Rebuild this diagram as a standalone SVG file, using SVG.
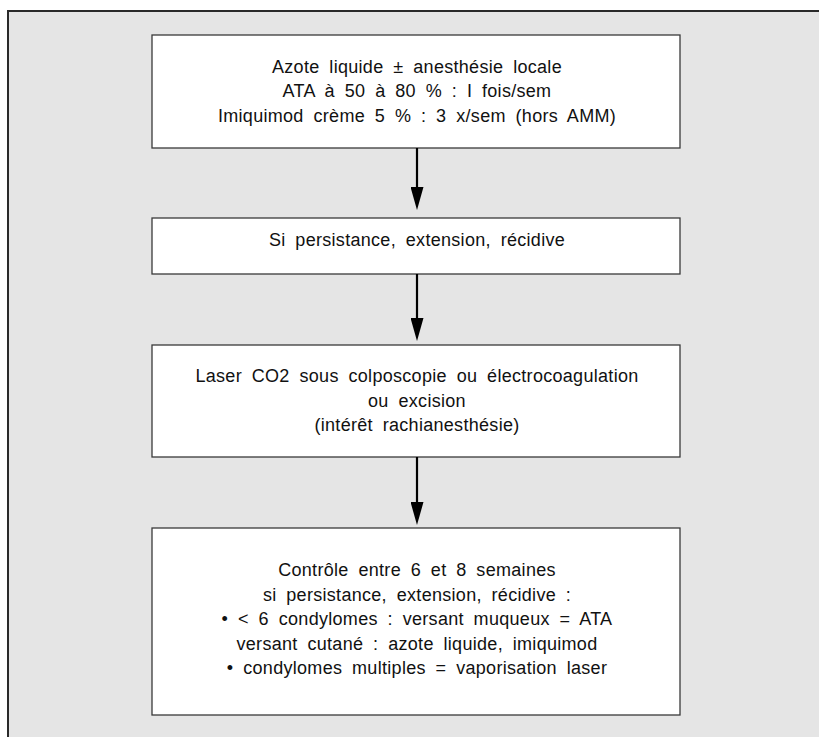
<svg xmlns="http://www.w3.org/2000/svg" width="819" height="737" viewBox="0 0 819 737">
<style>
.box{fill:#ffffff;stroke:#3a3a3a;stroke-width:1.3}
.t{font-family:"Liberation Sans",Arial,sans-serif;font-size:18px;fill:#111111;text-anchor:middle;letter-spacing:0.3px;word-spacing:4.5px}
.conn{stroke:#000;stroke-width:2.2;fill:none}
</style>
<defs>
<marker id="ah" markerUnits="userSpaceOnUse" markerWidth="23" markerHeight="13" viewBox="0 0 23 13" refX="11" refY="6.5" orient="auto">
<path d="M0,0 L23,6.5 L0,13 z" fill="#000"/>
</marker>
</defs>
<rect x="0" y="0" width="819" height="737" fill="#ffffff"/>
<rect x="8" y="11" width="811" height="726" fill="#e5e5e5"/>
<path d="M8,737 V11 H819" fill="none" stroke="#2a2a2a" stroke-width="2"/>
<g id="n1">
<rect class="box" x="152" y="35" width="528" height="113"/>
<text class="t" x="417" y="72.5">Azote liquide ± anesthésie locale</text>
<text class="t" x="417" y="97">ATA à 50 à 80 % : I fois/sem</text>
<text class="t" x="417" y="121.5">Imiquimod crème 5 % : 3 x/sem (hors AMM)</text>
</g>
<g id="n2">
<rect class="box" x="152" y="218" width="528" height="56"/>
<text class="t" x="417" y="246">Si persistance, extension, récidive</text>
</g>
<g id="n3">
<rect class="box" x="152" y="345" width="528" height="112"/>
<text class="t" x="417" y="382">Laser CO2 sous colposcopie ou électrocoagulation</text>
<text class="t" x="417" y="406.5">ou excision</text>
<text class="t" x="417" y="431">(intérêt rachianesthésie)</text>
</g>
<g id="n4">
<rect class="box" x="152" y="528" width="528" height="187"/>
<text class="t" x="417" y="576">Contrôle entre 6 et 8 semaines</text>
<text class="t" x="417" y="600.5">si persistance, extension, récidive :</text>
<text class="t" x="417" y="625">• &lt; 6 condylomes : versant muqueux = ATA</text>
<text class="t" x="417" y="649.5">versant cutané : azote liquide, imiquimod</text>
<text class="t" x="417" y="674">• condylomes multiples = vaporisation laser</text>
</g>
<g id="connectors">
<line class="conn" x1="417" y1="148" x2="417" y2="198" marker-end="url(#ah)"/>
<line class="conn" x1="417" y1="274" x2="417" y2="329" marker-end="url(#ah)"/>
<line class="conn" x1="417" y1="457" x2="417" y2="513" marker-end="url(#ah)"/>
</g>
</svg>
